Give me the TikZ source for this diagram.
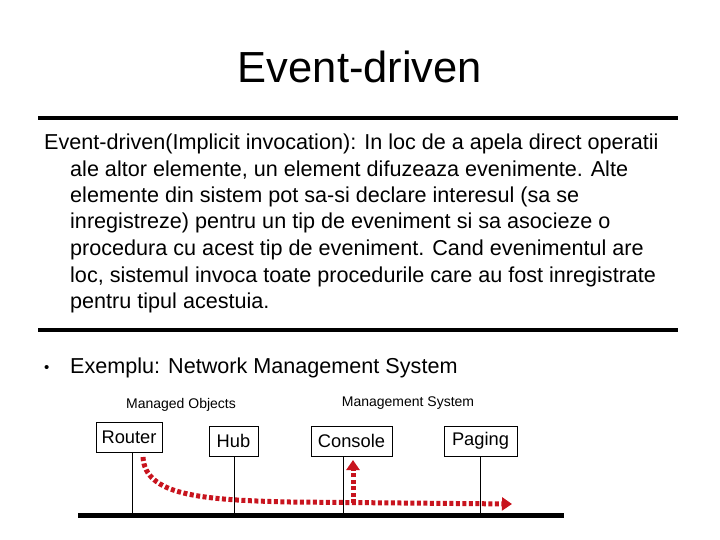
\documentclass[tikz,border=0pt]{standalone}
\usepackage{fontspec}
\setmainfont{Liberation Sans}
\usetikzlibrary{arrows.meta}
\begin{document}
\begin{tikzpicture}[x=1pt,y=-1pt,
  para/.style={anchor=base west,inner sep=0,font=\fontsize{21.6}{24}\selectfont},
  small/.style={anchor=base,inner sep=0,font=\fontsize{14}{16}\selectfont},
  dev/.style={draw,line width=0.8pt,inner sep=0,minimum height=30pt,font=\fontsize{18.3}{20}\selectfont},
  rule/.style={line width=4pt},
  red/.style={draw={rgb,255:red,200;green,20;blue,30},line width=5pt,dash pattern=on 4pt off 2.5pt,-{Triangle[length=10pt,width=13pt]}}]
\useasboundingbox (0,0) rectangle (720,540);
\node[anchor=base,inner sep=0,font=\fontsize{43.5}{48}\selectfont] (title) at (360,83) {Event-driven};
\coordinate (r1a) at (38,118); \coordinate (r1b) at (678,118);
\draw[rule] (r1a) -- (r1b);
\node[para] (l1) at (44,150) {Event-driven(Implicit invocation): In loc de a apela direct operatii};
\node[para] (l2) at (70,177) {ale altor elemente, un element difuzeaza evenimente. Alte};
\node[para] (l3) at (70,203) {elemente din sistem pot sa-si declare interesul (sa se};
\node[para] (l4) at (70,229) {inregistreze) pentru un tip de eveniment si sa asocieze o};
\node[para] (l5) at (70,255) {procedura cu acest tip de eveniment. Cand evenimentul are};
\node[para] (l6) at (70,282) {loc, sistemul invoca toate procedurile care au fost inregistrate};
\node[para] (l7) at (70,308) {pentru tipul acestuia.};
\coordinate (r2a) at (38,330); \coordinate (r2b) at (678,330);
\draw[rule] (r2a) -- (r2b);
\node[anchor=base west,inner sep=0,font=\fontsize{15}{18}\selectfont] (b) at (44,372) {\textbullet};
\node[para] (ex) at (70,373) {Exemplu: Network Management System};
\node[small] (mo) at (181,408) {Managed Objects};
\node[small] (ms) at (408,406) {Management System};
\node[dev,minimum width=66pt] (router) at (129,437.5) {Router};
\node[dev,minimum width=49pt] (hub) at (233.5,441) {Hub};
\node[dev,minimum width=81pt] (console) at (351.5,441) {Console};
\node[dev,minimum width=73pt] (paging) at (480.5,441) {Paging};
\coordinate (bl) at (78,515.5); \coordinate (br) at (564,515.5);
\draw[line width=5pt] (bl) -- (br);
\foreach \n/\x in {router/132,hub/234,console/343,paging/480}
  \draw[line width=0.8pt] (\n.south -| \x,0) -- (\x,515);
\coordinate (s) at (143,457);
\coordinate (t) at (512,504);
\coordinate (j) at (353,503);
\coordinate (u) at (353,460);
\draw[red] (s) .. controls (145,495) and (200,500) .. (290,502) -- (t);
\draw[red] (j) -- (u);
\end{tikzpicture}
\end{document}
